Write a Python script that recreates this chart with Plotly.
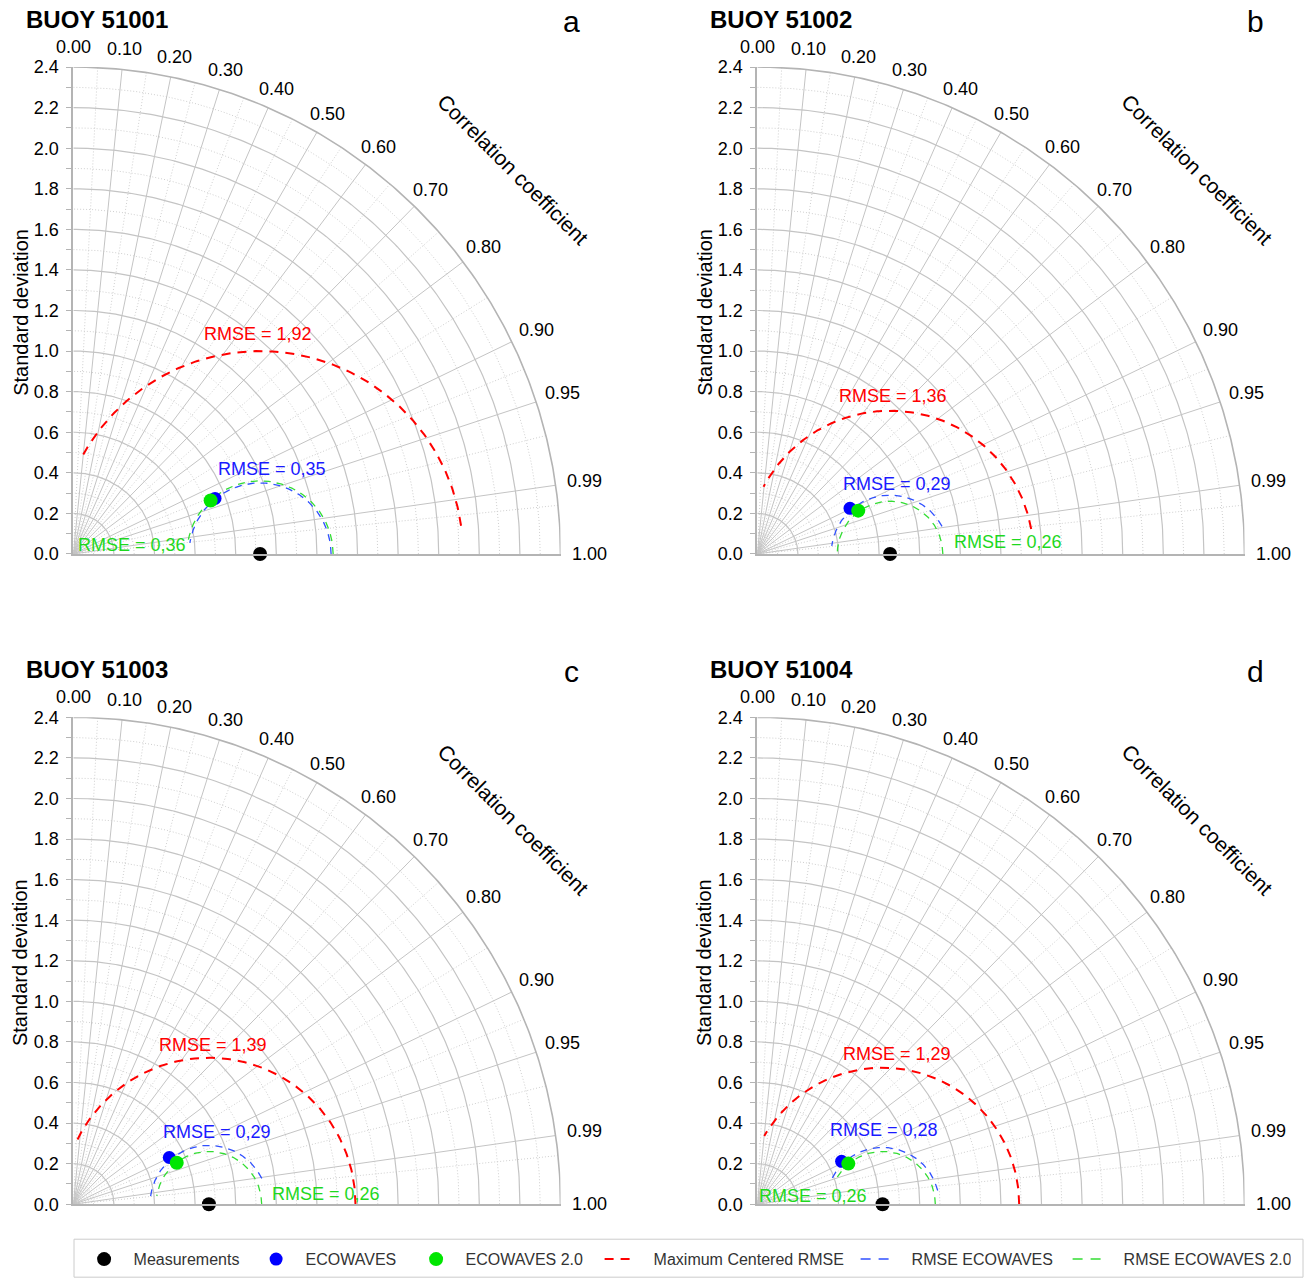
import numpy as np
import plotly.graph_objects as go

# ---------------- data ----------------
buoy_names = ["BUOY 51001", "BUOY 51002", "BUOY 51003", "BUOY 51004"]
panel_letters = ["a", "b", "c", "d"]

meas_std = [0.920, 0.654, 0.668, 0.617]
eco_std = [0.750, 0.509, 0.526, 0.466]
eco_corr = [0.931, 0.897, 0.899, 0.891]
eco2_std = [0.726, 0.541, 0.549, 0.491]
eco2_corr = [0.932, 0.919, 0.928, 0.913]

max_rmse = [1.92, 1.36, 1.39, 1.29]
eco_rmse = [0.35, 0.29, 0.29, 0.28]
eco2_rmse = [0.36, 0.26, 0.26, 0.26]

# angular extent (degrees about the measurement point) of each drawn RMSE arc
max_arc_deg = [[8, 152], [10, 152], [0, 155], [0, 150]]
eco_arc_deg = [[0, 171], [28, 172], [26, 172], [14, 156]]
eco2_arc_deg = [[0, 170], [0, 180], [0, 171], [0, 150]]

std_max = 2.4
std_ticks = [0.0, 0.2, 0.4, 0.6, 0.8, 1.0, 1.2, 1.4, 1.6, 1.8, 2.0, 2.2, 2.4]
std_tick_labels = ["0.0", "0.2", "0.4", "0.6", "0.8", "1.0", "1.2", "1.4", "1.6", "1.8", "2.0", "2.2", "2.4"]
std_minor = [0.1, 0.3, 0.5, 0.7, 0.9, 1.1, 1.3, 1.5, 1.7, 1.9, 2.1, 2.3]

corr_ticks = [0.0, 0.1, 0.2, 0.3, 0.4, 0.5, 0.6, 0.7, 0.8, 0.9, 0.95, 0.99, 1.0]
corr_tick_labels = ["0.00", "0.10", "0.20", "0.30", "0.40", "0.50", "0.60", "0.70",
                    "0.80", "0.90", "0.95", "0.99", "1.00"]
corr_minor = [0.05, 0.15, 0.25, 0.35, 0.45, 0.55, 0.65, 0.75, 0.85, 0.925, 0.97, 0.995]

legend_names = ["Measurements", "ECOWAVES", "ECOWAVES 2.0",
                "Maximum Centered RMSE", "RMSE ECOWAVES", "RMSE ECOWAVES 2.0"]

# ---------------- layout geometry ----------------
W, H = 1305, 1279
S = 203.0  # px per std unit
OX = [73.3, 757.3, 73.3, 757.3]
OY = [553.3, 553.3, 1204.0, 1204.0]
# vertical correction between figure pixels and the photographed page
VY_OFF, VY_SCALE = 9.0, 0.985

# RMSE label positions (data units, per panel)
max_lab_pos = [(0.91, 1.085), (0.667, 0.78), (0.688, 0.786), (0.686, 0.741)]
eco_lab_pos = [(0.979, 0.42), (0.69, 0.345), (0.708, 0.358), (0.623, 0.365)]
eco2_lab_pos = [(0.289, 0.046), (1.236, 0.057), (1.245, 0.052), (0.274, 0.041)]

# legend entry widths (px) so that entries line up with the original
legend_entry_w = [108, 96, 124, 194, 148, 162]

FONT = "Liberation Sans, Arial, sans-serif"
RED = "#ff0000"
BLUE_M = "#0000ff"
BLUE_L = "#3050ff"
BLUE_T = "#1a1aff"
GREEN_M = "#00e600"
GREEN_L = "#33dd33"
GREEN_T = "#1ed81e"
GRID_MAJ = "#c4c4c4"
GRID_MIN = "#cfcfcf"
AXIS = "#b4b4b4"

RED_DASH = "9px,7px"
RMSE_DASH = "7px,6px"
RED_LEG_DASH = "0px,5px,9px,7px,9px,200px"
RMSE_LEG_DASH = "0px,3px,10px,8px,10px,200px"


def px_x(px):
    return px / W


def px_y(py):
    return 1 - ((py - VY_OFF) / VY_SCALE) / H


def arcs(radii, a0=0.0, a1=90.0, cx=0.0):
    xs, ys = [], []
    for r in radii:
        t = np.radians(np.linspace(a0, a1, 181))
        xs += list(cx + r * np.cos(t)) + [None]
        ys += list(r * np.sin(t)) + [None]
    return xs, ys


def rays(corrs, rmax):
    xs, ys = [], []
    for c in corrs:
        th = np.arccos(c)
        xs += [0, rmax * np.cos(th), None]
        ys += [0, rmax * np.sin(th), None]
    return xs, ys


fig = go.Figure()
annotations = []
shapes = []

for i in range(4):
    xa = "x" if i == 0 else f"x{i+1}"
    ya = "y" if i == 0 else f"y{i+1}"
    leg = (i == 0)
    ox, oy = OX[i], OY[i]

    def to_paper(xd, yd):
        return px_x(ox + xd * S), px_y(oy - yd * S)

    # minor std arcs
    x, y = arcs(std_minor)
    fig.add_trace(go.Scatter(x=x, y=y, mode="lines", xaxis=xa, yaxis=ya,
                             line=dict(color=GRID_MIN, width=1, dash="1px,2px"),
                             hoverinfo="skip", showlegend=False))
    # minor correlation rays
    x, y = rays(corr_minor, std_max)
    fig.add_trace(go.Scatter(x=x, y=y, mode="lines", xaxis=xa, yaxis=ya,
                             line=dict(color=GRID_MIN, width=1, dash="1px,2px"),
                             hoverinfo="skip", showlegend=False))
    # major correlation rays
    x, y = rays(corr_ticks[1:-1], std_max)
    fig.add_trace(go.Scatter(x=x, y=y, mode="lines", xaxis=xa, yaxis=ya,
                             line=dict(color=GRID_MAJ, width=1),
                             hoverinfo="skip", showlegend=False))
    # major std arcs
    x, y = arcs(std_ticks[1:-1])
    fig.add_trace(go.Scatter(x=x, y=y, mode="lines", xaxis=xa, yaxis=ya,
                             line=dict(color=GRID_MAJ, width=1.2),
                             hoverinfo="skip", showlegend=False))
    # outer arc
    x, y = arcs([std_max])
    fig.add_trace(go.Scatter(x=x, y=y, mode="lines", xaxis=xa, yaxis=ya,
                             line=dict(color=AXIS, width=1.6),
                             hoverinfo="skip", showlegend=False))

    # RMSE arcs centred on measurement
    m = meas_std[i]
    x, y = arcs([max_rmse[i] - m], max_arc_deg[i][0], max_arc_deg[i][1], cx=m)
    fig.add_trace(go.Scatter(x=x, y=y, mode="lines", xaxis=xa, yaxis=ya,
                             line=dict(color=RED, width=2, dash=RED_DASH),
                             showlegend=False, hoverinfo="skip"))
    x, y = arcs([eco_rmse[i]], eco_arc_deg[i][0], eco_arc_deg[i][1], cx=m)
    fig.add_trace(go.Scatter(x=x, y=y, mode="lines", xaxis=xa, yaxis=ya,
                             line=dict(color=BLUE_L, width=1.3, dash=RMSE_DASH),
                             showlegend=False, hoverinfo="skip"))
    x, y = arcs([eco2_rmse[i]], eco2_arc_deg[i][0], eco2_arc_deg[i][1], cx=m)
    fig.add_trace(go.Scatter(x=x, y=y, mode="lines", xaxis=xa, yaxis=ya,
                             line=dict(color=GREEN_L, width=1.3, dash=RMSE_DASH),
                             showlegend=False, hoverinfo="skip"))

    # points
    fig.add_trace(go.Scatter(x=[m], y=[0.0], mode="markers", xaxis=xa, yaxis=ya,
                             name=legend_names[0], legendrank=1, legendwidth=legend_entry_w[0],
                             cliponaxis=False, marker=dict(color="black", size=14),
                             showlegend=leg))
    th = np.arccos(eco_corr[i])
    fig.add_trace(go.Scatter(x=[eco_std[i] * np.cos(th)], y=[eco_std[i] * np.sin(th)],
                             mode="markers", xaxis=xa, yaxis=ya,
                             name=legend_names[1], legendrank=2, legendwidth=legend_entry_w[1],
                             cliponaxis=False, marker=dict(color=BLUE_M, size=13),
                             showlegend=leg))
    th = np.arccos(eco2_corr[i])
    fig.add_trace(go.Scatter(x=[eco2_std[i] * np.cos(th)], y=[eco2_std[i] * np.sin(th)],
                             mode="markers", xaxis=xa, yaxis=ya,
                             name=legend_names[2], legendrank=3, legendwidth=legend_entry_w[2],
                             cliponaxis=False, marker=dict(color=GREEN_M, size=14),
                             showlegend=leg))

    R = std_max * S
    fig.layout[("xaxis" if i == 0 else f"xaxis{i+1}")] = dict(
        domain=[px_x(ox), px_x(ox + R)], range=[0, std_max], anchor=ya,
        showgrid=False, zeroline=False, showticklabels=False, ticks="",
        showline=True, linecolor=AXIS, linewidth=2, fixedrange=True)
    fig.layout[("yaxis" if i == 0 else f"yaxis{i+1}")] = dict(
        domain=[px_y(oy), px_y(oy - R)], range=[0, std_max], anchor=xa,
        showgrid=False, zeroline=False,
        tickmode="array", tickvals=std_ticks, ticktext=std_tick_labels,
        ticks="outside", ticklen=5, tickcolor=AXIS, tickwidth=1,
        minor=dict(tickvals=std_minor, ticks="outside", ticklen=5, tickcolor=AXIS, tickwidth=1),
        tickfont=dict(family=FONT, size=18, color="black"), ticklabelstandoff=4,
        showline=True, linecolor=AXIS, linewidth=2, fixedrange=True)

    # correlation labels (paper coords so they are never hidden)
    for c, lab in zip(corr_ticks, corr_tick_labels):
        t = np.arccos(c)
        rl = 2.5 + 0.045 * c ** 3
        px_, py_ = to_paper(rl * np.cos(t), rl * np.sin(t))
        annotations.append(dict(x=px_, y=py_, xref="paper", yref="paper",
                                xanchor="center", yanchor="middle",
                                text=lab, showarrow=False,
                                font=dict(family=FONT, size=18, color="black")))
    # axis titles
    px_, py_ = to_paper(2.88 * np.cos(np.radians(41.2)), 2.88 * np.sin(np.radians(41.2)))
    annotations.append(dict(x=px_, y=py_, xref="paper", yref="paper",
                            xanchor="center", yanchor="middle",
                            text="Correlation coefficient", textangle=45,
                            showarrow=False, font=dict(family=FONT, size=21, color="black")))
    annotations.append(dict(x=px_x(ox - 53), y=px_y(oy - 1.19 * S), xref="paper", yref="paper",
                            xanchor="center", yanchor="middle",
                            text="Standard deviation", textangle=-90, showarrow=False,
                            font=dict(family=FONT, size=20, color="black")))
    # panel title and letter
    annotations.append(dict(x=px_x(ox - 49), y=px_y(oy - 535), xref="paper", yref="paper",
                            text="<b>" + buoy_names[i] + "</b>", xanchor="left", yanchor="middle",
                            showarrow=False, font=dict(family=FONT, size=24, color="black")))
    annotations.append(dict(x=px_x(ox + 498), y=px_y(oy - 533), xref="paper", yref="paper",
                            text=panel_letters[i], xanchor="center", yanchor="middle",
                            showarrow=False, font=dict(family=FONT, size=30, color="black")))
    # RMSE labels
    for pos, txt, col in [(max_lab_pos[i], "RMSE = " + f"{max_rmse[i]:.2f}".replace(".", ","), RED),
                          (eco_lab_pos[i], "RMSE = " + f"{eco_rmse[i]:.2f}".replace(".", ","), BLUE_T),
                          (eco2_lab_pos[i], "RMSE = " + f"{eco2_rmse[i]:.2f}".replace(".", ","), GREEN_T)]:
        px_, py_ = to_paper(pos[0], pos[1])
        annotations.append(dict(x=px_, y=py_, xref="paper", yref="paper", text=txt,
                                xanchor="center", yanchor="middle", showarrow=False,
                                font=dict(family=FONT, size=18, color=col)))

# legend entries for the dashed RMSE curves (no data of their own)
for nm, rank, wdt, col, lw, dsh in [(legend_names[3], 4, legend_entry_w[3], RED, 2, RED_LEG_DASH),
                                    (legend_names[4], 5, legend_entry_w[4], BLUE_L, 1.5, RMSE_LEG_DASH),
                                    (legend_names[5], 6, legend_entry_w[5], GREEN_L, 1.5, RMSE_LEG_DASH)]:
    fig.add_trace(go.Scatter(x=[None], y=[None], mode="lines", name=nm, legendrank=rank,
                             legendwidth=wdt, line=dict(color=col, width=lw, dash=dsh),
                             showlegend=True, hoverinfo="skip"))

# legend frame
shapes.append(dict(type="rect", xref="paper", yref="paper",
                   x0=px_x(74), x1=px_x(1303), y0=px_y(1277), y1=px_y(1239),
                   line=dict(color="#cccccc", width=1), fillcolor="rgba(0,0,0,0)"))

fig.update_layout(
    width=W, height=H,
    margin=dict(l=0, r=0, t=0, b=0),
    paper_bgcolor="white", plot_bgcolor="rgba(0,0,0,0)",
    annotations=annotations, shapes=shapes,
    showlegend=True,
    legend=dict(orientation="h", x=px_x(74.6), y=px_y(1259), xanchor="left", yanchor="middle",
                itemwidth=49, bgcolor="rgba(0,0,0,0)", borderwidth=0,
                font=dict(family=FONT, size=16, color="#333333"), traceorder="normal"),
    font=dict(family=FONT),
)

post = (
    "document.documentElement.style.cssText='margin:0;padding:0;overflow:hidden;width:1305px;height:1279px';"
    "document.body.style.cssText='margin:0;padding:0;overflow:hidden;width:1305px;height:1279px;position:relative';"
    "var gd=document.getElementById('{plot_id}');"
    "gd.style.position='absolute';gd.style.left='0px';gd.style.top='0px';"
)

fig.write_html("out.html", config={"displayModeBar": False}, post_script=post)
